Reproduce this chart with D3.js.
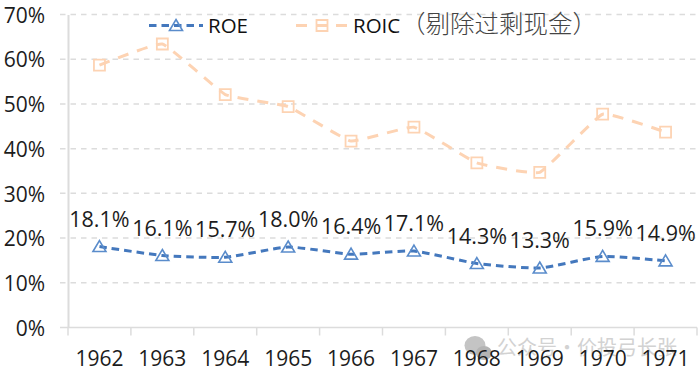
<!DOCTYPE html>
<html>
<head>
<meta charset="utf-8">
<script src="https://cdn.jsdelivr.net/npm/d3@7"></script>
<style>
  html, body { margin: 0; padding: 0; background: #fff; }
  svg { display: block; }
</style>
</head>
<body>
<div id="chart"></div>
<script>
const years = ["1962", "1963", "1964", "1965", "1966", "1967", "1968", "1969", "1970", "1971"];
const roe = [18.1, 16.1, 15.7, 18.0, 16.4, 17.1, 14.3, 13.3, 15.9, 14.9];
const roic = [58.7, 63.4, 52.1, 49.4, 41.7, 44.8, 36.8, 34.7, 47.7, 43.7];
const yTicks = [0, 10, 20, 30, 40, 50, 60, 70];
const seriesNames = ["ROE", "ROIC"];
const roicNote = "（剔除过剩现金）";

const width = 700;
const height = 377;
const marginLeft = 68;
const marginRight = 3;
const marginTop = 14.5;
const marginBottom = 49.5;
const font = "'Open Sans', 'Noto Sans CJK SC', sans-serif";
const cjkFont = "'Noto Sans CJK SC', sans-serif";
const textColor = "#1c1c1c";
const axisColor = "#dcdcdc";
const roeColor = "#4478bd";
const roeMarker = "#5a8ccb";
const roicColor = "#fdd3b3";

const x = d3.scaleBand(years, [marginLeft, width - marginRight]);
const y = d3.scaleLinear([0, 70], [height - marginBottom, marginTop]);
const cx = (i) => x(years[i]) + x.bandwidth() / 2;

const svg = d3
  .select("#chart")
  .append("svg")
  .attr("width", width)
  .attr("height", height)
  .attr("viewBox", [0, 0, width, height])
  .attr("font-family", font);

// watermark sits under everything
const mark = svg.append("g").attr("fill", "#d2d2d2").attr("font-family", cjkFont).attr("font-size", 20);
mark.append("ellipse").attr("cx", 475).attr("cy", 345.5).attr("rx", 10.5).attr("ry", 9.5).attr("fill", "#c4c4c4");
mark.append("ellipse").attr("cx", 484).attr("cy", 353).attr("rx", 8).attr("ry", 7).attr("fill", "#b4b4b4");
mark.append("text").attr("x", 497).attr("y", 355).text("公众号");
mark.append("text").attr("x", 567).attr("y", 355).attr("text-anchor", "middle").text("·");
mark.append("text").attr("x", 577).attr("y", 355).text("价投弓长张");

// grid
svg
  .append("g")
  .selectAll("line")
  .data(yTicks.filter((d) => d > 0))
  .join("line")
  .attr("x1", 60)
  .attr("x2", width - marginRight)
  .attr("y1", (d) => y(d))
  .attr("y2", (d) => y(d))
  .attr("stroke", axisColor)
  .attr("stroke-width", 1.5)
  .attr("stroke-dasharray", "5.5 5");

// y axis
svg
  .append("g")
  .attr("transform", `translate(${marginLeft},0)`)
  .call(d3.axisLeft(y).tickValues(yTicks).tickSize(0).tickPadding(23).tickFormat((d) => d + "%"))
  .call((g) => g.select(".domain").attr("stroke", axisColor).attr("stroke-width", 2))
  .call((g) =>
    g.selectAll(".tick text").attr("font-size", 21).attr("font-family", font).attr("fill", textColor).attr("dy", "0.37em")
  );

// x axis
svg
  .append("g")
  .attr("transform", `translate(0,${y(0)})`)
  .call(d3.axisBottom(x).tickSize(0).tickPadding(24))
  .call((g) => g.select(".domain").remove())
  .call((g) =>
    g.selectAll(".tick text").attr("font-size", 21).attr("font-family", font).attr("fill", textColor)
  );

svg
  .append("line")
  .attr("x1", 60)
  .attr("x2", width - marginRight)
  .attr("y1", y(0))
  .attr("y2", y(0))
  .attr("stroke", axisColor)
  .attr("stroke-width", 1.5);

svg
  .append("g")
  .selectAll("line")
  .data(d3.range(years.length + 1))
  .join("line")
  .attr("x1", (i) => marginLeft + i * x.bandwidth())
  .attr("x2", (i) => marginLeft + i * x.bandwidth())
  .attr("y1", y(0))
  .attr("y2", y(0) + 8)
  .attr("stroke", axisColor)
  .attr("stroke-width", 1.5);

const line = (tension) =>
  d3
    .line()
    .x((d, i) => cx(i))
    .y((d) => y(d))
    .curve(d3.curveCardinal.tension(tension));

const triangle = (px, py) => `M${px},${py - 6}L${px + 6.5},${py + 5}L${px - 6.5},${py + 5}Z`;
const square = (px, py) => `M${px - 5.5},${py - 5.5}h11v11h-11Z`;

// ROIC
svg
  .append("path")
  .attr("d", line(0.7)(roic))
  .attr("fill", "none")
  .attr("stroke", roicColor)
  .attr("stroke-width", 3)
  .attr("stroke-dasharray", "11 9");
svg
  .append("g")
  .selectAll("path")
  .data(roic)
  .join("path")
  .attr("d", (d, i) => square(cx(i), y(d)))
  .attr("fill", "none")
  .attr("stroke", roicColor)
  .attr("stroke-width", 1.8);

// ROE
svg
  .append("path")
  .attr("d", line(0.5)(roe))
  .attr("fill", "none")
  .attr("stroke", roeColor)
  .attr("stroke-width", 3)
  .attr("stroke-dasharray", "7.5 5");
svg
  .append("g")
  .selectAll("path")
  .data(roe)
  .join("path")
  .attr("d", (d, i) => triangle(cx(i), y(d)))
  .attr("fill", "none")
  .attr("stroke", roeMarker)
  .attr("stroke-width", 1.6);

// data labels
svg
  .append("g")
  .selectAll("text")
  .data(roe)
  .join("text")
  .attr("x", (d, i) => cx(i))
  .attr("y", (d) => y(d) - 20)
  .attr("text-anchor", "middle")
  .attr("font-size", 21.5)
  .attr("fill", textColor)
  .text((d) => d.toFixed(1) + "%");

// legend
const legend = svg.append("g");
legend
  .append("line")
  .attr("x1", 149)
  .attr("x2", 203)
  .attr("y1", 25.5)
  .attr("y2", 25.5)
  .attr("stroke", roeColor)
  .attr("stroke-width", 3)
  .attr("stroke-dasharray", "7.5 5");
legend.append("path").attr("d", triangle(176, 25.5)).attr("fill", "none").attr("stroke", roeMarker).attr("stroke-width", 1.6);
legend
  .append("text")
  .attr("x", 208)
  .attr("y", 33)
  .attr("font-size", 20.5)
  .attr("fill", "#111")
  .text(seriesNames[0]);
legend
  .append("line")
  .attr("x1", 296)
  .attr("x2", 350)
  .attr("y1", 25.5)
  .attr("y2", 25.5)
  .attr("stroke", roicColor)
  .attr("stroke-width", 3)
  .attr("stroke-dasharray", "11 9");
legend.append("path").attr("d", square(322, 25.5)).attr("fill", "none").attr("stroke", roicColor).attr("stroke-width", 1.8);
legend
  .append("text")
  .attr("x", 353)
  .attr("y", 33)
  .attr("font-size", 20.5)
  .attr("fill", "#111")
  .text(seriesNames[1]);
legend
  .append("text")
  .attr("x", 401)
  .attr("y", 33)
  .attr("font-size", 24.5)
  .attr("font-family", cjkFont)
  .attr("font-weight", 300)
  .attr("fill", "#444")
  .text(roicNote);
</script>
</body>
</html>
